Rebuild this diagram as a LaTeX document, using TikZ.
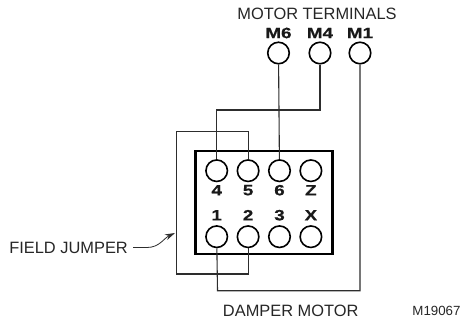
\documentclass[tikz,border=0pt]{standalone}
\usepackage{fontspec}
\setmainfont{Liberation Sans}
\newfontfamily\pinfont[FakeStretch=1.25, FakeBold=0.6]{Liberation Sans}
\usepackage{tikz}
\usetikzlibrary{positioning, arrows.meta}
\definecolor{wire}{RGB}{45,45,45}
\tikzstyle{terminal}=[circle, minimum size = 21.5pt, inner sep = 0pt, draw=black, line width = 1.6pt]
\tikzstyle{pin}=[font=\pinfont\bfseries\fontsize{15}{15}\selectfont, inner sep = 0pt, text=black!90]
\tikzstyle{caption}=[font=\fontsize{16.4}{16.4}\selectfont, inner sep = 0pt, text=black!85]
\tikzstyle{lead}=[draw=wire, line width = 1.1pt]

\begin{document}
\begin{tikzpicture}[x=1pt, y=1pt, node distance = 31.4pt]
            \useasboundingbox (0,0) rectangle (461,-322);
            %Motor side
            \node[caption](motor) at (317,-13.5){MOTOR TERMINALS};
            \node[terminal](m6) at (278.5,-53){};
            \node[terminal](m4) at (320,-53){};
            \node[terminal](m1) at (360,-53){};
            \foreach \n in {6,4,1}{
                \node[pin, above of = m\n, node distance = 20pt](lm\n){M\n};
            }
            %Damper terminal block
            \node[draw=black, line width = 2.6pt, minimum width = 137pt, minimum height = 103pt, inner sep = 0pt](block) at (264,-202.3){};
            \node[terminal](t4) at (216.7,-170.7){};
            \node[terminal, below of = t4, node distance = 66pt](t1){};
            \foreach \a/\b in {4/5,5/6,6/z,1/2,2/3,3/x}{
                \node[terminal, right of = t\a](t\b){};
            }
            %Labels above and below the circles
            \foreach \n/\t in {4/4,5/5,6/6,z/Z}{
                \node[pin, below of = t\n, node distance = 19.5pt](lt\n){\t};
            }
            \foreach \n/\t in {1/1,2/2,3/3,x/X}{
                \node[pin, above of = t\n, node distance = 21.5pt](lt\n){\t};
            }
            \coordinate (bendm4) at (216.7,-110);
            \coordinate (bendm1) at (217.5,-290.7);
            \coordinate (jumpa) at (176.7,-131.7);
            \coordinate (jumpb) at (176.7,-274);
            \draw[lead] (m6) to (t6);
            \draw[lead] (m4) |- (bendm4) -- (t4);
            \draw[lead] (m1) |- (bendm1) -- (t1);
            \draw[lead] (t5) |- (jumpa) -- (jumpb) -| (t2);
            %Outside labels
            \node[caption](damper) at (290.7,-310.5){DAMPER MOTOR};
            \node[caption, anchor=east](jumper) at (128,-247.5){FIELD JUMPER};
            \node[font=\fontsize{13.3}{13.3}\selectfont, inner sep = 0pt, text=black!85](drawing) at (436.5,-310.5){M19067};
            \coordinate (jumpertip) at (175,-233);
            \draw[draw=wire, line width = .8pt, -{Stealth[length=10pt, width=6pt]}] (jumper.east) ++(5,0) -- ++(14,0) to[out=0, in=205] (jumpertip);
\end{tikzpicture}
\end{document}
